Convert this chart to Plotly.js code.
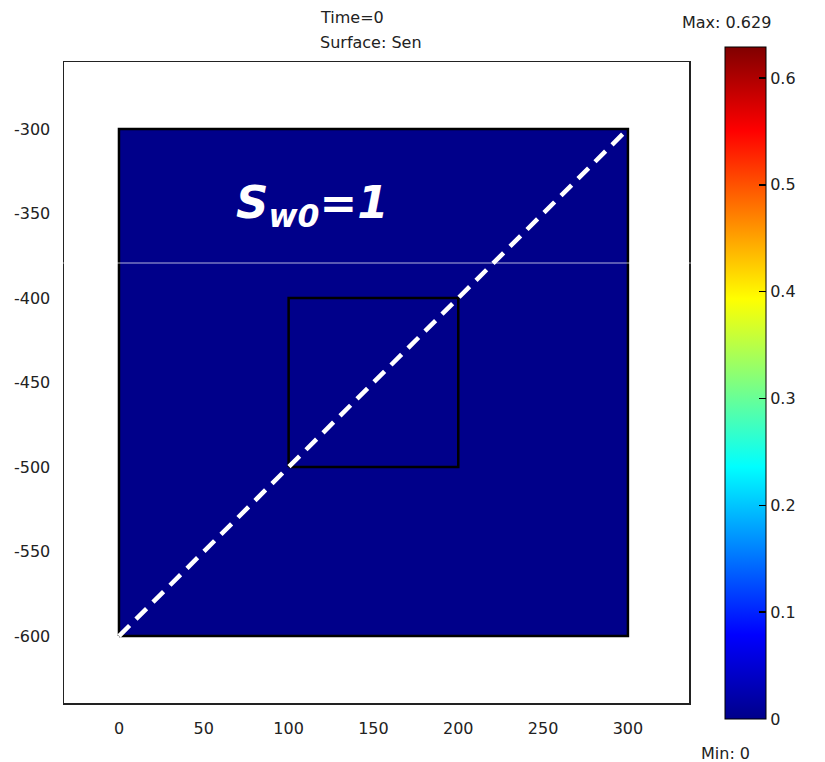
<!DOCTYPE html>
<html>
<head>
<meta charset="utf-8">
<script src="https://cdn.plot.ly/plotly-3.0.1.min.js"></script>
<style>html,body{margin:0;padding:0;background:#fff;}#plot{width:825px;height:762px;}</style>
</head>
<body>
<div id="plot"></div>
<script>
// Domain (m) and field values
const domainX = [0, 300];
const domainY = [-600, -300];
const senValues = [[0]];
const senMin = 0;
const senMax = 0.629;
const outerX = [0, 300, 300, 0, 0];
const outerY = [-600, -600, -300, -300, -600];
const innerX = [100, 200, 200, 100, 100];
const innerY = [-500, -500, -400, -400, -500];
const diagX = [0, 300];
const diagY = [-600, -300];
const xTicks = [0, 50, 100, 150, 200, 250, 300];
const yTicks = [-300, -350, -400, -450, -500, -550, -600];
const yTickText = ['-300', '-350', '-400', '-450', '-500', '-550', '-600'];
const cbTicks = [0, 0.1, 0.2, 0.3, 0.4, 0.5, 0.6];
const cbTickText = ['0', '0.1', '0.2', '0.3', '0.4', '0.5', '0.6'];

const jet = [[0,'rgb(0,0,138)'],[0.125,'rgb(0,0,255)'],[0.375,'rgb(0,255,255)'],[0.625,'rgb(255,255,0)'],[0.875,'rgb(255,0,0)'],[1,'rgb(128,0,0)']];
const fontFam = 'DejaVu Sans, Verdana, sans-serif';
const txt = {family:fontFam, size:16, color:'#222'};

const traces = [
  {type:'heatmap', x: domainX, y: domainY, z: senValues, zmin: senMin, zmax: senMax,
   colorscale: jet, hoverinfo:'skip',
   colorbar: {x: 1.0576, xanchor:'left', xpad:0, ypad:0, y:0.4992, yanchor:'middle',
     lenmode:'pixels', len:672, thickness:41, thicknessmode:'pixels',
     outlinewidth:1, outlinecolor:'#000', tickvals: cbTicks, ticktext: cbTickText,
     ticks:'inside', ticklen:7, tickwidth:1.5, tickcolor:'#000', ticklabelpad:3,
     tickfont:txt}},
  {type:'scatter', mode:'lines', x: outerX, y: outerY, line:{color:'#000', width:2.5}, hoverinfo:'skip', showlegend:false},
  {type:'scatter', mode:'lines', x: innerX, y: innerY, line:{color:'#000', width:2.5}, hoverinfo:'skip', showlegend:false},
  {type:'scatter', mode:'lines', x: diagX, y: diagY, line:{color:'#fff', width:4.5, dash:'15px,9px'}, hoverinfo:'skip', showlegend:false}
];

const layout = {
  width:825, height:762,
  margin:{l:64, r:136, t:62, b:59},
  paper_bgcolor:'#fff', plot_bgcolor:'#fff',
  showlegend:false,
  font:txt,
  xaxis:{range:[-32.4, 336], showgrid:false, zeroline:false, showline:true, mirror:true, linecolor:'#222', linewidth:1.5,
    tickvals:xTicks, ticks:'', tickfont:txt, ticklabelstandoff:10},
  yaxis:{range:[-639.6, -260.4], showgrid:false, zeroline:false, showline:true, mirror:true, linecolor:'#222', linewidth:1.5,
    tickvals:yTicks, ticktext:yTickText, ticks:'', tickfont:txt, ticklabelstandoff:9},
  annotations:[
    {xref:'paper', yref:'paper', x:(318-64)/625, xanchor:'left', y:(703-17)/641, yanchor:'middle', showarrow:false,
     text:'Time=0', font:txt},
    {xref:'paper', yref:'paper', x:(318-64)/625, xanchor:'left', y:(703-42)/641, yanchor:'middle', showarrow:false,
     text:'Surface: Sen', font:txt},
    {xref:'paper', yref:'paper', x:(773-64)/625, y:(703-22)/641, yanchor:'middle', showarrow:false,
     text:'Max: 0.629', font:txt},
    {xref:'paper', yref:'paper', x:(752-64)/625, y:(703-753)/641, yanchor:'middle', showarrow:false,
     text:'Min: 0', font:txt},
    {xref:'x', yref:'y', x:113.7, y:-345, showarrow:false,
     text:'<b><i>S<sub>w0</sub>=1</i></b>', font:{family:fontFam, size:45, color:'#fff'}}
  ],
  shapes:[
    {type:'line', xref:'paper', yref:'paper', x0:-0.103, x1:1.003, y0:(703-263)/641, y1:(703-263)/641, line:{color:'rgba(255,255,255,0.7)', width:1}, layer:'above'}
  ]
};

Plotly.newPlot('plot', traces, layout, {staticPlot:true, displayModeBar:false});
</script>
</body>
</html>
